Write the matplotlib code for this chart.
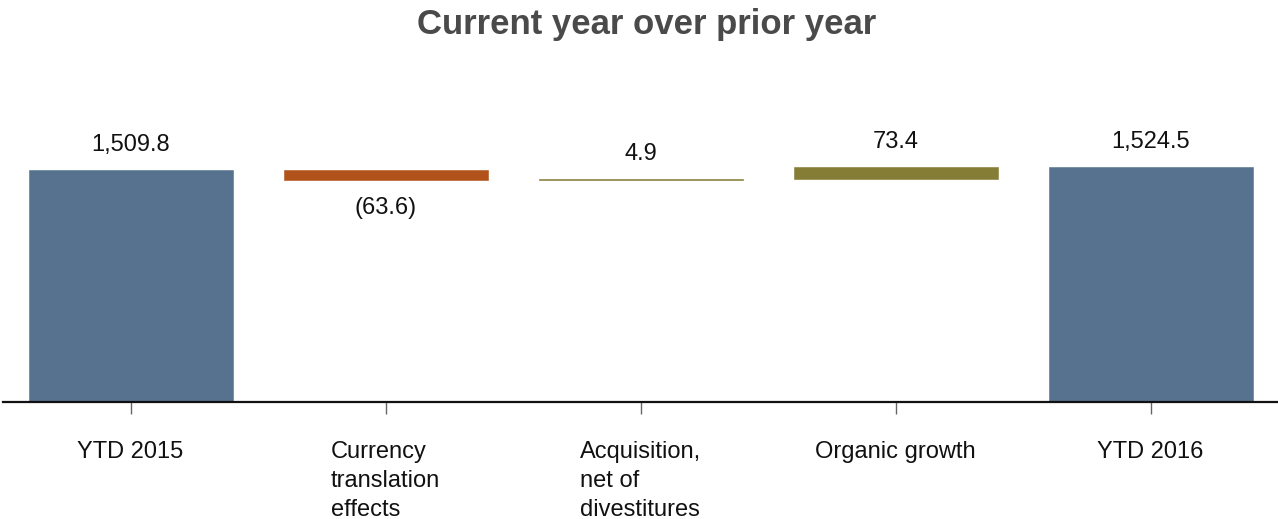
import matplotlib
matplotlib.use("Agg")
import matplotlib.pyplot as plt

plt.rcParams['font.family'] = ['Liberation Sans', 'DejaVu Sans']

# Waterfall data
categories = ["YTD 2015", "Currency\ntranslation\neffects", "Acquisition,\nnet of\ndivestitures",
              "Organic growth", "YTD 2016"]
start_total = 1509.8
changes = [-63.6, 4.9, 73.4]
end_total = 1524.5
value_labels = ["1,509.8", "(63.6)", "4.9", "73.4", "1,524.5"]

total_color = "#57728f"
neg_color = "#b2521b"
pos_color = "#857d35"

# Build bar bottoms/heights for the floating steps
bottoms = [0]
heights = [start_total]
colors = [total_color]
running = start_total
for c in changes:
    if c < 0:
        bottoms.append(running + c)
    else:
        bottoms.append(running)
    heights.append(abs(c))
    colors.append(neg_color if c < 0 else pos_color)
    running += c
bottoms.append(0)
heights.append(end_total)
colors.append(total_color)

fig = plt.figure(figsize=(12.78, 5.19), dpi=100)
ax = fig.add_axes([3 / 1278, 117 / 519, 1275 / 1278, 342 / 519])

x = list(range(len(categories)))
ax.bar(x, heights, bottom=bottoms, width=0.8, color=colors,
       edgecolor=colors, linewidth=0.4)

# Value labels above (or below for negatives)
for i, (b, h, lab) in enumerate(zip(bottoms, heights, value_labels)):
    if i in (1, 2, 3) and changes[i - 1] < 0:
        ax.annotate(lab, (i, b), xytext=(0, -24.5), textcoords="offset points",
                    ha="center", va="baseline", fontsize=17, color="#111111")
    else:
        ax.annotate(lab, (i, b + h), xytext=(0, 13.7), textcoords="offset points",
                    ha="center", va="baseline", fontsize=17, color="#111111")

ax.set_xlim(-0.5, 4.5)
ax.set_ylim(0, 2223)
ax.set_xticks(x)
ax.set_xticklabels(categories, fontsize=17, color="#111111",
                   multialignment="left", linespacing=1.4)
ax.set_yticks([])
for s in ["left", "right", "top"]:
    ax.spines[s].set_visible(False)
ax.spines["bottom"].set_linewidth(1.6)
ax.spines["bottom"].set_color("#111111")
ax.tick_params(axis="x", direction="out", length=8.6, width=1, color="#666666", pad=19.5)

fig.suptitle("Current year over prior year", fontsize=25, fontweight="bold",
             color="#4a4a4a", x=0.506, y=0.985, va="top")

fig.savefig("out.png", dpi=100)
